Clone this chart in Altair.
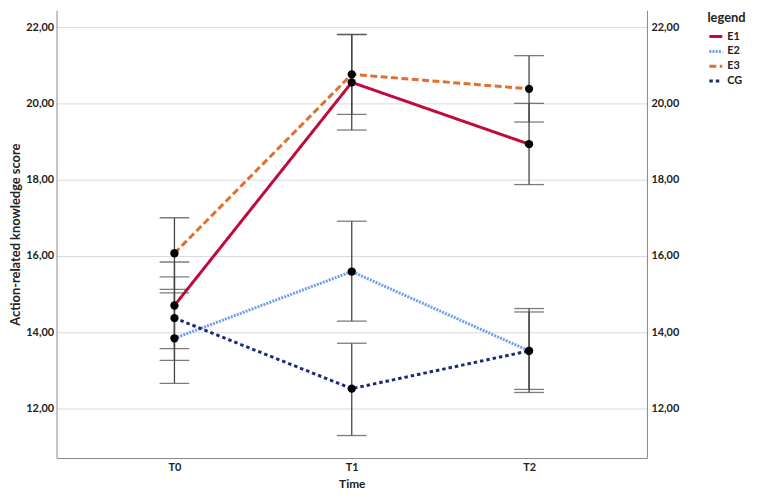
import altair as alt
import pandas as pd

times = ["T0", "T1", "T2"]
groups = ["E1", "E2", "E3", "CG"]
means = {
    "E1": [14.70, 20.55, 18.93],
    "E2": [13.84, 15.59, 13.51],
    "E3": [16.07, 20.76, 20.38],
    "CG": [14.37, 12.52, 13.51],
}
lows = {
    "E1": [13.57, 19.30, 17.87],
    "E2": [12.66, 14.29, 12.42],
    "E3": [15.12, 19.71, 19.51],
    "CG": [13.26, 11.29, 12.50],
}
highs = {
    "E1": [15.84, 21.80, 20.00],
    "E2": [15.03, 16.91, 14.62],
    "E3": [17.00, 21.81, 21.25],
    "CG": [15.45, 13.71, 14.53],
}
colors = ["#C10A3C", "#6F9CEF", "#E0702E", "#1D2A78"]
dashes = [[1, 0], [2, 1.2], [7, 3.5], [3.5, 3]]
y_ticks = [12, 14, 16, 18, 20, 22]

rows = []
for g in groups:
    for i, t in enumerate(times):
        rows.append({"group": g, "time": t, "mean": means[g][i],
                     "lo": lows[g][i], "hi": highs[g][i]})
df = pd.DataFrame(rows)

FONT = "Lato"
label_expr = "replace(format(datum.value, '.2f'), '.', ',')"

xenc = alt.X("time:O", scale=alt.Scale(type="point", domain=times, padding=0.665),
             axis=alt.Axis(title="Time", labelAngle=0, ticks=False, domainColor="#888888",
                           labelFontWeight="bold", labelFontSize=11, titleFontSize=12,
                           titleFontWeight="bold", labelPadding=4, titlePadding=6,
                           labelColor="#222222", titleColor="#222222"))
yscale = alt.Scale(domain=[10.7, 22.44], nice=False, zero=False)
left_axis = alt.Axis(title="Action-related knowledge score", values=y_ticks, labelExpr=label_expr,
                     ticks=False, domainColor="#888888", gridColor="#D9D9D9",
                     labelFontWeight="bold", labelFontSize=11, titleFontSize=13,
                     titleFontWeight="bold", labelPadding=3, titlePadding=3,
                     labelColor="#222222", titleColor="#222222")
right_axis = alt.Axis(title=None, orient="right", values=y_ticks, labelExpr=label_expr,
                      ticks=False, grid=False, domainColor="#888888",
                      labelFontWeight="bold", labelFontSize=11, labelPadding=4,
                      labelColor="#222222")

base = alt.Chart(df)

lines = base.mark_line(strokeWidth=3).encode(
    x=xenc,
    y=alt.Y("mean:Q", scale=yscale, axis=left_axis),
    color=alt.Color("group:N", scale=alt.Scale(domain=groups, range=colors),
                    legend=alt.Legend(title="legend")),
    strokeDash=alt.StrokeDash("group:N", scale=alt.Scale(domain=groups, range=dashes),
                              legend=alt.Legend(title="legend")),
    order=alt.Order("time:O"),
)

ebar_color = "#444444"
rules = base.mark_rule(color=ebar_color, strokeWidth=1.3).encode(
    x="time:O",
    y=alt.Y("lo:Q", scale=yscale, axis=right_axis),
    y2="hi:Q",
)
caps_lo = base.mark_tick(color=ebar_color, thickness=1.3, size=30, orient="horizontal").encode(
    x="time:O", y=alt.Y("lo:Q", scale=yscale, axis=None))
caps_hi = base.mark_tick(color=ebar_color, thickness=1.3, size=30, orient="horizontal").encode(
    x="time:O", y=alt.Y("hi:Q", scale=yscale, axis=None))
points = base.mark_circle(color="black", opacity=1, size=70).encode(
    x="time:O", y=alt.Y("mean:Q", scale=yscale, axis=None))

chart = alt.layer(lines, rules, caps_lo, caps_hi, points).resolve_axis(
    y="independent"
).properties(
    width=596, height=452,
    autosize=alt.AutoSizeParams(type="none"),
    padding={"left": 49, "top": 0, "right": 103, "bottom": 35},
).configure(font=FONT).configure_view(stroke=None).configure_legend(
    orient="none", legendX=657, legendY=2,
    titleFontSize=13, titleFontWeight="bold", titleColor="#222222",
    labelFontSize=11, labelFontWeight="bold", labelColor="#222222",
    symbolType="stroke", symbolStrokeWidth=3, symbolSize=170,
    rowPadding=0, titlePadding=3, labelOffset=3,
)

chart.save("out.html", embed_options={"renderer": "svg", "actions": False})
